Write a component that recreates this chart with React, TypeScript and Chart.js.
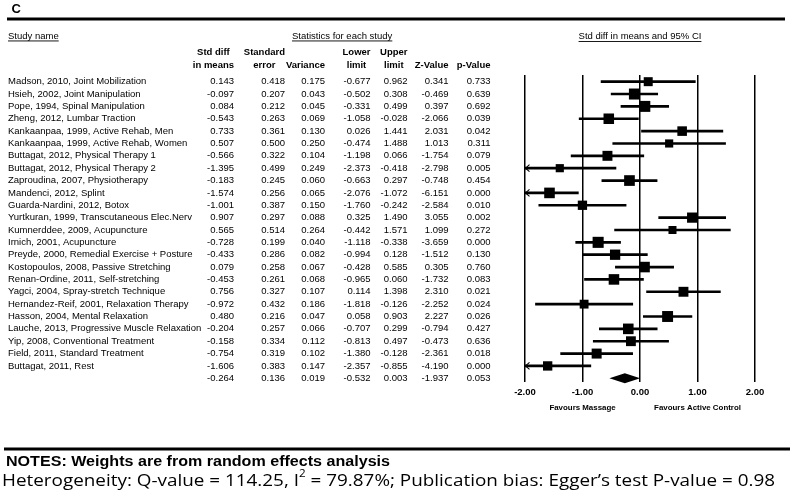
import React, { useEffect, useRef } from 'react';
import { Chart, registerables } from 'chart.js';

Chart.register(...registerables);

const FONT = '"Liberation Sans", Arial, Helvetica, sans-serif';

const studyNames = [
  'Madson, 2010, Joint Mobilization',
  'Hsieh, 2002, Joint Manipulation',
  'Pope, 1994, Spinal Manipulation',
  'Zheng, 2012, Lumbar Traction',
  'Kankaanpaa, 1999, Active Rehab, Men',
  'Kankaanpaa, 1999, Active Rehab, Women',
  'Buttagat, 2012, Physical Therapy 1',
  'Buttagat, 2012, Physical Therapy 2',
  'Zaproudina, 2007, Physiotherapy',
  'Mandenci, 2012, Splint',
  'Guarda-Nardini, 2012, Botox',
  'Yurtkuran, 1999, Transcutaneous Elec.Nerv',
  'Kumnerddee, 2009, Acupuncture',
  'Irnich, 2001, Acupuncture',
  'Preyde, 2000, Remedial Exercise + Posture',
  'Kostopoulos, 2008, Passive Stretching',
  'Renan-Ordine, 2011, Self-stretching',
  'Yagci, 2004, Spray-stretch Technique',
  'Hernandez-Reif, 2001, Relaxation Therapy',
  'Hasson, 2004, Mental Relaxation',
  'Lauche, 2013, Progressive Muscle Relaxation',
  'Yip, 2008, Conventional Treatment',
  'Field, 2011, Standard Treatment',
  'Buttagat, 2011, Rest',
];
const stdDiff = [0.143, -0.097, 0.084, -0.543, 0.733, 0.507, -0.566, -1.395, -0.183, -1.574, -1.001, 0.907, 0.565, -0.728, -0.433, 0.079, -0.453, 0.756, -0.972, 0.480, -0.204, -0.158, -0.754, -1.606];
const stdError = [0.418, 0.207, 0.212, 0.263, 0.361, 0.500, 0.322, 0.499, 0.245, 0.256, 0.387, 0.297, 0.514, 0.199, 0.286, 0.258, 0.261, 0.327, 0.432, 0.216, 0.257, 0.334, 0.319, 0.383];
const variance = [0.175, 0.043, 0.045, 0.069, 0.130, 0.250, 0.104, 0.249, 0.060, 0.065, 0.150, 0.088, 0.264, 0.040, 0.082, 0.067, 0.068, 0.107, 0.186, 0.047, 0.066, 0.112, 0.102, 0.147];
const lowerLimit = [-0.677, -0.502, -0.331, -1.058, 0.026, -0.474, -1.198, -2.373, -0.663, -2.076, -1.760, 0.325, -0.442, -1.118, -0.994, -0.428, -0.965, 0.114, -1.818, 0.058, -0.707, -0.813, -1.380, -2.357];
const upperLimit = [0.962, 0.308, 0.499, -0.028, 1.441, 1.488, 0.066, -0.418, 0.297, -1.072, -0.242, 1.490, 1.571, -0.338, 0.128, 0.585, 0.060, 1.398, -0.126, 0.903, 0.299, 0.497, -0.128, -0.855];
const zValue = [0.341, -0.469, 0.397, -2.066, 2.031, 1.013, -1.754, -2.798, -0.748, -6.151, -2.584, 3.055, 1.099, -3.659, -1.512, 0.305, -1.732, 2.310, -2.252, 2.227, -0.794, -0.473, -2.361, -4.190];
const pValue = [0.733, 0.639, 0.692, 0.039, 0.042, 0.311, 0.079, 0.005, 0.454, 0.000, 0.010, 0.002, 0.272, 0.000, 0.130, 0.760, 0.083, 0.021, 0.024, 0.026, 0.427, 0.636, 0.018, 0.000];
// pooled: std diff, std error, variance, lower, upper, z, p
const pooled = [-0.264, 0.136, 0.019, -0.532, 0.003, -1.937, 0.053];
const xTicks = [-2, -1, 0, 1, 2];
const columnHeaders = [
  ['Std diff', 'in means'],
  ['Standard', 'error'],
  ['', 'Variance'],
  ['Lower', 'limit'],
  ['Upper', 'limit'],
  ['', 'Z-Value'],
  ['', 'p-Value'],
];
const favourLabels = ['Favours Massage', 'Favours Active Control'];
const favourAt = [-1, 1];

// layout constants (pixels)
const COL_RIGHT = [234, 285, 325, 370.5, 407.5, 448.5, 490.5];
const TAU2 = 0.33;

function squareRadius(v: number) {
  const side = 8.8 * Math.sqrt(1 / (v + TAU2)) - 3.4;
  return side / Math.SQRT2;
}

function underlined(ctx: CanvasRenderingContext2D, text: string, x: number, y: number, align: CanvasTextAlign) {
  ctx.textAlign = align;
  ctx.fillText(text, x, y);
  const w = ctx.measureText(text).width;
  const x0 = align === 'center' ? x - w / 2 : align === 'right' ? x - w : x;
  ctx.fillRect(x0, y + 4.5, w, 0.9);
}

function drawFitted(
  ctx: CanvasRenderingContext2D,
  parts: { text: string; font: string; dy: number }[],
  x: number,
  y: number,
  targetW: number
) {
  const widths = parts.map((p) => {
    ctx.font = p.font;
    return ctx.measureText(p.text).width;
  });
  const total = widths.reduce((a, b) => a + b, 0);
  const s = targetW / total;
  ctx.save();
  ctx.translate(x, y);
  ctx.scale(s, 1);
  ctx.textAlign = 'left';
  let cx = 0;
  parts.forEach((p, k) => {
    ctx.font = p.font;
    ctx.fillText(p.text, cx, p.dy);
    cx += widths[k];
  });
  ctx.restore();
}

const forestPlugin = {
  id: 'forestText',
  afterDraw(chart: any) {
    const ctx: CanvasRenderingContext2D = chart.ctx;
    const xs = chart.scales.x;
    const ys = chart.scales.y;
    ctx.save();
    ctx.fillStyle = '#000';
    ctx.strokeStyle = '#000';
    ctx.textBaseline = 'middle';

    // panel letter and top rule
    ctx.font = `bold 13px ${FONT}`;
    ctx.textAlign = 'left';
    ctx.fillText('C', 11.5, 9);
    ctx.fillRect(7, 17.5, 778, 3);

    // section headers
    ctx.font = `9.5px ${FONT}`;
    underlined(ctx, 'Study name', 8, 36, 'left');
    underlined(ctx, 'Statistics for each study', 292, 36, 'left');
    underlined(ctx, 'Std diff in means and 95% CI', xs.getPixelForValue(0), 36.5, 'center');

    // column headers
    ctx.font = `bold 9.5px ${FONT}`;
    columnHeaders.forEach((lines, c) => {
      const w = Math.max(...lines.map((l) => ctx.measureText(l).width));
      const cx = COL_RIGHT[c] - w / 2;
      ctx.textAlign = 'center';
      if (lines[0]) ctx.fillText(lines[0], cx, 52.7);
      ctx.fillText(lines[1], cx, 65);
    });

    // study rows
    ctx.font = `9.5px ${FONT}`;
    const cols = [stdDiff, stdError, variance, lowerLimit, upperLimit, zValue, pValue];
    studyNames.forEach((name, i) => {
      const y = ys.getPixelForValue(i + 1);
      ctx.textAlign = 'left';
      ctx.fillText(name, 8, y);
      ctx.textAlign = 'right';
      cols.forEach((arr, c) => ctx.fillText(arr[i].toFixed(3), COL_RIGHT[c], y));
    });
    const yp = ys.getPixelForValue(studyNames.length + 1);
    ctx.textAlign = 'right';
    pooled.forEach((v, c) => ctx.fillText(v.toFixed(3), COL_RIGHT[c], yp));

    // pooled diamond
    const pl = xs.getPixelForValue(pooled[3]);
    const pm = xs.getPixelForValue(pooled[0]);
    const pr = xs.getPixelForValue(pooled[4]);
    ctx.beginPath();
    ctx.moveTo(pl, yp);
    ctx.lineTo(pm, yp - 5);
    ctx.lineTo(pr, yp);
    ctx.lineTo(pm, yp + 5);
    ctx.closePath();
    ctx.fill();

    // arrows for truncated intervals
    ctx.lineWidth = 1.1;
    studyNames.forEach((_, i) => {
      if (lowerLimit[i] < xs.min) {
        const y = ys.getPixelForValue(i + 1);
        const x0 = xs.left;
        ctx.beginPath();
        ctx.moveTo(x0 + 4.5, y - 3.5);
        ctx.lineTo(x0 + 0.5, y);
        ctx.lineTo(x0 + 4.5, y + 3.5);
        ctx.stroke();
      }
    });

    // favours labels
    ctx.font = `bold 7.9px ${FONT}`;
    ctx.textAlign = 'center';
    favourLabels.forEach((t, k) => ctx.fillText(t, xs.getPixelForValue(favourAt[k]), 408));

    // bottom rule and notes
    ctx.fillRect(4, 447.5, 786, 3);
    drawFitted(ctx, [{ text: 'NOTES: Weights are from random effects analysis', font: `bold 14px ${FONT}`, dy: 0 }], 6, 462, 384);
    const hf = '17px "Open Sans", "Noto Sans", sans-serif';
    const sf = '10.5px "Open Sans", "Noto Sans", sans-serif';
    drawFitted(
      ctx,
      [
        { text: 'Heterogeneity: Q-value = 114.25, I', font: hf, dy: 0 },
        { text: '2', font: sf, dy: -6.5 },
        { text: ' = 79.87%; Publication bias: Egger\u2019s test P-value = 0.98', font: hf, dy: 0 },
      ],
      2,
      481,
      773
    );
    ctx.restore();
  },
};

export default function App() {
  const ref = useRef<HTMLCanvasElement | null>(null);
  useEffect(() => {
    document.body.style.margin = '0';
    const canvas = ref.current;
    if (!canvas) return;
    const chart = new Chart(canvas, {
      type: 'bar',
      data: {
        datasets: [
          {
            type: 'scatter',
            data: studyNames.map((_, i) => ({ x: stdDiff[i], y: i + 1 })),
            pointStyle: 'rect',
            pointRadius: variance.map((v) => squareRadius(v)),
            pointHoverRadius: variance.map((v) => squareRadius(v)),
            backgroundColor: '#000',
            borderColor: '#000',
            borderWidth: 0,
            order: 1,
          } as any,
          {
            type: 'bar',
            data: studyNames.map((_, i) => ({ x: [lowerLimit[i], upperLimit[i]], y: i + 1 })),
            backgroundColor: '#000',
            borderWidth: 0,
            barThickness: 2,
            clip: 0,
            order: 2,
          } as any,
        ],
      },
      options: {
        indexAxis: 'y',
        responsive: false,
        animation: false,
        events: [],
        layout: { padding: { left: 525, right: 35, top: 75, bottom: 83 } },
        plugins: { legend: { display: false }, tooltip: { enabled: false } },
        scales: {
          x: {
            type: 'linear',
            position: 'bottom',
            min: -2,
            max: 2,
            offset: false,
            afterBuildTicks: (axis: any) => {
              axis.ticks = xTicks.map((v) => ({ value: v }));
            },
            afterFit: (scale: any) => {
              scale.height = 26;
            },
            ticks: {
              color: '#000',
              padding: 5,
              maxRotation: 0,
              autoSkip: false,
              font: { family: FONT, size: 9.5, weight: 'bold' },
              callback: (v: any) => Number(v).toFixed(2),
            },
            grid: { color: '#000', lineWidth: 1.5, drawTicks: false, offset: false },
            border: { display: false },
          },
          y: { type: 'linear', min: 0.46, max: 25.3, reverse: true, display: false, offset: false, grid: { offset: false } },
        },
      } as any,
      plugins: [forestPlugin],
    });
    return () => chart.destroy();
  }, []);
  return <canvas ref={ref} width={790} height={491} style={{ display: 'block' }} />;
}
